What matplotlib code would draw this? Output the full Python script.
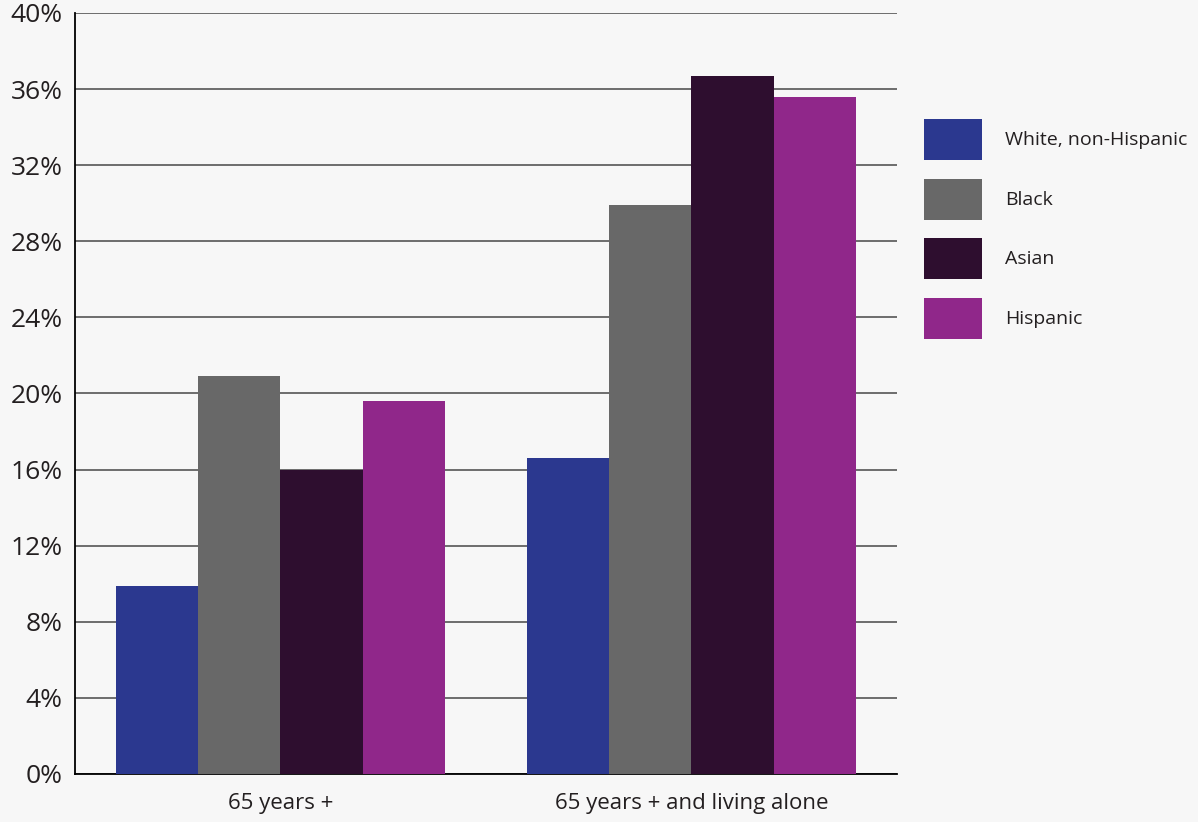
import numpy as np
import matplotlib
matplotlib.use('Agg')
import matplotlib.pyplot as plt
# ------------------------------ #

groups = ['65 years +', '65 years + and living alone']
seriesNames = ['White, non-Hispanic', 'Black', 'Asian', 'Hispanic']
seriesColors = ['#2B388F', '#686868', '#2E0E2F', '#90278A']
values = {
	'White, non-Hispanic': [9.9, 16.6],
	'Black': [20.9, 29.9],
	'Asian': [16.0, 36.7],
	'Hispanic': [19.6, 35.6],
}
yTicks = [0, 4, 8, 12, 16, 20, 24, 28, 32, 36, 40]
# ------------------------------ #

plt.rcParams['font.family'] = ['Open Sans', 'DejaVu Sans']

fig = plt.figure(figsize = (11.98, 8.22), dpi = 100, facecolor = '#F7F7F7')
ax = fig.add_axes([0.0626, 0.0584, 0.6861, 0.9258])
ax.set_facecolor('#F7F7F7')

x = np.arange(len(groups))
barWidth = 0.2

for i, name in enumerate(seriesNames):
	offset = (i - 1.5) * barWidth
	ax.bar(x + offset, values[name], width = barWidth, color = seriesColors[i],
		label = name, zorder = 3, linewidth = 0)

ax.set_xlim(-0.5, 1.5)
ax.set_ylim(0, 40)
ax.set_yticks(yTicks)
ax.set_yticklabels([f'{t}%' for t in yTicks], fontsize = 19, color = '#231F20')
ax.set_xticks(x)
ax.set_xticklabels(groups, fontsize = 16, color = '#231F20')
ax.tick_params(axis = 'y', length = 0, pad = 9)
ax.tick_params(axis = 'x', length = 0, pad = 14)

ax.grid(axis = 'y', color = '#6D6D6D', linewidth = 1.4, zorder = 1)
ax.set_axisbelow(True)

for side in ['top', 'right']:
	ax.spines[side].set_visible(False)
ax.spines['left'].set_color('#000000')
ax.spines['left'].set_linewidth(1.3)
ax.spines['bottom'].set_color('#000000')
ax.spines['bottom'].set_linewidth(1.3)

fig.legend(
	loc = 'upper left',
	bbox_to_anchor = (0.7713, 0.8552),
	frameon = False,
	borderpad = 0,
	borderaxespad = 0,
	fontsize = 14,
	handlelength = 2.98,
	handleheight = 2.9,
	handletextpad = 1.2,
	labelspacing = 0.93,
	labelcolor = '#231F20',
)

fig.savefig('out.png', dpi = 100, facecolor = fig.get_facecolor())
